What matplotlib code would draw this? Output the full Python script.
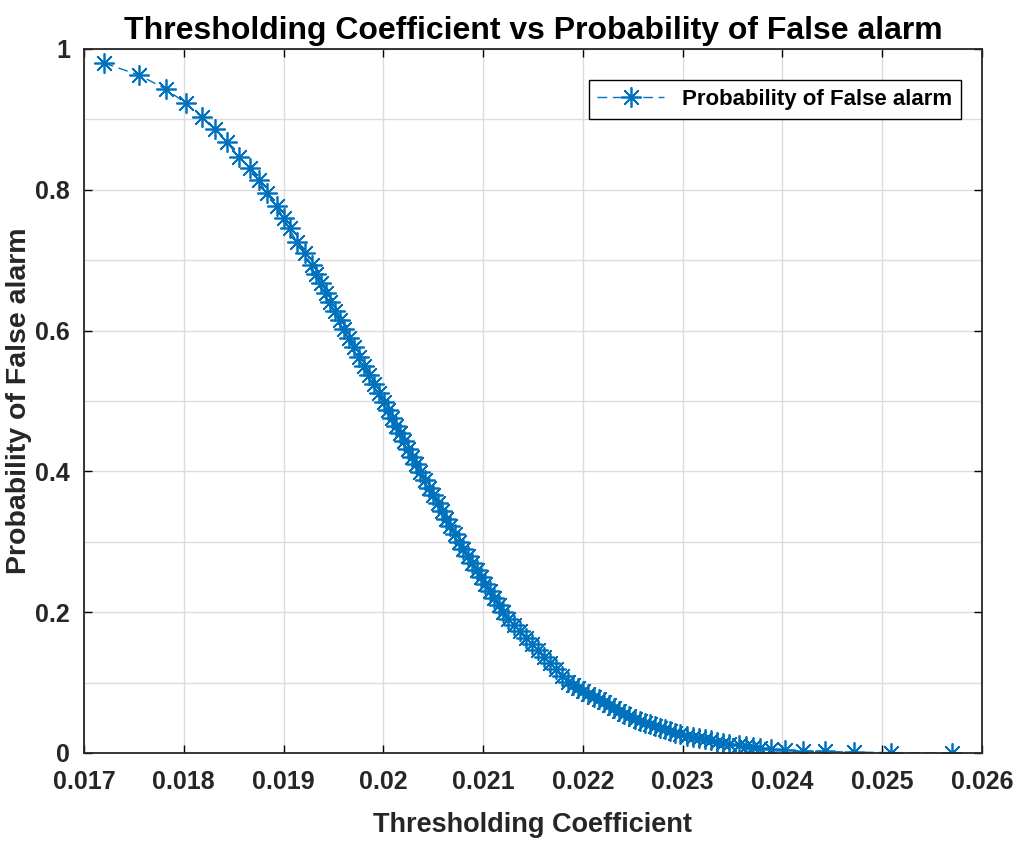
import numpy as np
import matplotlib
matplotlib.use("Agg")
import matplotlib.pyplot as plt
from matplotlib.ticker import MultipleLocator

# Values (threshold coefficient vs Pfa)
thresh_coeff = [
    0.01720, 0.01755, 0.01782, 0.01802, 0.01818, 0.01831, 0.01843, 0.01855,
    0.01866, 0.01875, 0.01883, 0.01893, 0.01900, 0.01906, 0.01913, 0.01921,
    0.01928, 0.01933, 0.01938, 0.01943, 0.01947, 0.01952, 0.01957, 0.01961,
    0.01966, 0.01971, 0.01976, 0.01981, 0.01986, 0.01991, 0.01996, 0.02001,
    0.02005, 0.02009, 0.02013, 0.02017, 0.02021, 0.02025, 0.02029, 0.02033,
    0.02037, 0.02042, 0.02046, 0.02050, 0.02055, 0.02059, 0.02063, 0.02067,
    0.02072, 0.02076, 0.02080, 0.02085, 0.02089, 0.02094, 0.02098, 0.02102,
    0.02107, 0.02111, 0.02116, 0.02120, 0.02125, 0.02131, 0.02137, 0.02143,
    0.02149, 0.02155, 0.02161, 0.02167, 0.02173, 0.02179, 0.02185, 0.02190,
    0.02195, 0.02200, 0.02205, 0.02211, 0.02216, 0.02221, 0.02226, 0.02231,
    0.02236, 0.02241, 0.02246, 0.02252, 0.02257, 0.02262, 0.02267, 0.02272,
    0.02277, 0.02282, 0.02287, 0.02292, 0.02297, 0.02304, 0.02310, 0.02316,
    0.02322, 0.02328, 0.02334, 0.02340, 0.02346, 0.02356, 0.02363, 0.02371,
    0.02378, 0.02389, 0.02403, 0.02421, 0.02443, 0.02472, 0.02509, 0.02570,
]
pfa = [
    0.980, 0.963, 0.943, 0.923, 0.903, 0.886, 0.868, 0.847,
    0.831, 0.814, 0.795, 0.777, 0.760, 0.745, 0.726, 0.710,
    0.693, 0.680, 0.667, 0.654, 0.641, 0.628, 0.615, 0.602,
    0.589, 0.576, 0.563, 0.550, 0.537, 0.524, 0.511, 0.498,
    0.487, 0.476, 0.465, 0.454, 0.443, 0.432, 0.421, 0.410,
    0.399, 0.388, 0.377, 0.366, 0.355, 0.344, 0.333, 0.322,
    0.311, 0.300, 0.290, 0.280, 0.270, 0.260, 0.250, 0.240,
    0.230, 0.220, 0.210, 0.200, 0.191, 0.182, 0.173, 0.164,
    0.155, 0.146, 0.137, 0.128, 0.119, 0.110, 0.101, 0.096,
    0.092, 0.088, 0.084, 0.080, 0.076, 0.072, 0.068, 0.064,
    0.060, 0.056, 0.052, 0.048, 0.0456, 0.0432, 0.0408, 0.0384,
    0.0360, 0.0336, 0.0312, 0.0288, 0.0264, 0.0245, 0.0228, 0.0211,
    0.0194, 0.0178, 0.0161, 0.0144, 0.0128, 0.0108, 0.0094, 0.0080,
    0.0068, 0.0050, 0.0040, 0.0030, 0.0021, 0.0012, 0.0005, 0.0001,
]
x_ticks = [0.017, 0.018, 0.019, 0.020, 0.021, 0.022, 0.023, 0.024, 0.025, 0.026]
x_tick_labels = ["0.017", "0.018", "0.019", "0.02", "0.021", "0.022",
                 "0.023", "0.024", "0.025", "0.026"]
y_ticks = [0, 0.2, 0.4, 0.6, 0.8, 1.0]
y_tick_labels = ["0", "0.2", "0.4", "0.6", "0.8", "1"]

plt.rcParams['font.family'] = ['Liberation Sans', 'DejaVu Sans']
plt.rcParams['font.weight'] = 'bold'
blue = "#0072BD"
txt = "#262626"

fig = plt.figure(figsize=(10.16, 8.43), dpi=100)
ax = fig.add_axes([0.0827, 0.1068, 0.8838, 0.8351])

x = np.asarray(thresh_coeff)
y = np.asarray(pfa)
ax.plot(x, y, color=blue, linewidth=1.0, linestyle=(0, (7, 4)),
        marker=(8, 2, 0), markersize=14.5, markeredgewidth=1.25,
        markeredgecolor=blue, label="Probability of False alarm")

ax.set_xlim(0.017, 0.026)
ax.set_ylim(0, 1)
ax.set_xticks(x_ticks)
ax.set_xticklabels(x_tick_labels)
ax.set_yticks(y_ticks)
ax.set_yticklabels(y_tick_labels)
ax.yaxis.set_minor_locator(MultipleLocator(0.1))
ax.grid(True, which='both', color='#dcdcdc', linewidth=1.0)
ax.set_axisbelow(True)
ax.tick_params(axis='both', which='major', direction='in', length=6, width=1,
               top=True, right=True, labelsize=18, labelcolor=txt)
ax.tick_params(axis='x', which='major', pad=12)
ax.tick_params(axis='y', which='major', pad=10)
ax.tick_params(axis='y', which='minor', length=0)
for s in ax.spines.values():
    s.set_linewidth(1.3)
    s.set_color(txt)

ax.set_title("Thresholding Coefficient vs Probability of False alarm",
             fontsize=23, fontweight='bold', pad=7, color='black')
ax.set_xlabel("Thresholding Coefficient", fontsize=19.5, fontweight='bold',
              color=txt)
ax.set_ylabel("Probability of False alarm", fontsize=20.5, fontweight='bold',
              color=txt)
ax.xaxis.set_label_coords(0.5, -0.084)
ax.yaxis.set_label_coords(-0.058, 0.5)

leg = ax.legend(loc='upper right', bbox_to_anchor=(0.9766, 0.956),
                borderaxespad=0, fontsize=16, handlelength=3.0,
                fancybox=False, edgecolor='black', framealpha=1)
leg.get_frame().set_linewidth(1.0)

plt.savefig("out.png", dpi=100)
